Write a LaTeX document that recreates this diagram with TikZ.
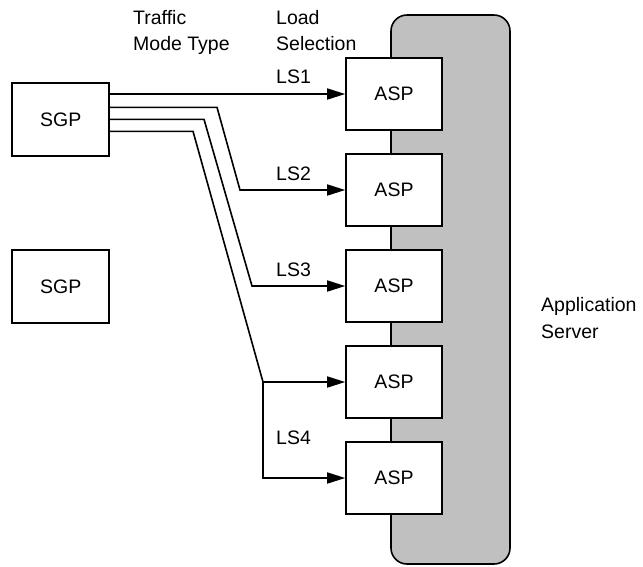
\documentclass[tikz,border=0pt]{standalone}
\usepackage{fontspec}
\setmainfont{Liberation Sans}
\usetikzlibrary{arrows.meta}
\definecolor{srvgray}{RGB}{192,192,192}
\begin{document}
\begin{tikzpicture}[x=1pt,y=-1pt,
  every node/.style={font=\fontsize{19.5}{26}\selectfont},
  box/.style={draw, line width=1.6pt, fill=white, minimum width=96pt, minimum height=72pt, inner sep=0pt},
  lbl/.style={anchor=base west, inner sep=0pt},
  conn/.style={line width=1.6pt},
  arr/.style={conn, -{Triangle[length=18pt,width=11pt]}},
]
\useasboundingbox (0,0) rectangle (643,566);
% application server
\draw[line width=1.6pt, fill=srvgray, rounded corners=16pt] (391,15) rectangle (510,564);
% ASP boxes
\node[box] (asp1) at (394,94) {ASP};
\node[box] (asp2) at (394,190) {ASP};
\node[box] (asp3) at (394,286) {ASP};
\node[box] (asp4) at (394,382) {ASP};
\node[box] (asp5) at (394,478) {ASP};
% SGP boxes
\node[box, minimum width=97pt, minimum height=73pt] (sgp1) at (60.7,119.3) {SGP};
\node[box, minimum width=97pt, minimum height=73pt] (sgp2) at (60.7,286.3) {SGP};
% connectors
\draw[arr] (asp1.west -| sgp1.east) -- (asp1.west);
\draw[arr] ([yshift=12pt]sgp1.east) -- ++(107,0) -- (240,0 |- asp2.west) -- (asp2.west);
\draw[arr] (sgp1.east) -- ++(94,0) -- (252,0 |- asp3.west) -- (asp3.west);
\draw[conn] ([yshift=-12pt]sgp1.east) -- ++(83,0) -- (263,0 |- asp4.west) coordinate (split);
\draw[arr] (split) -- (asp4.west);
\draw[arr] (split) |- (asp5.west);
% labels
\node[lbl] (t1) at (133,24) {Traffic};
\node[lbl] (t2) at (133,50) {Mode Type};
\node[lbl] (l1) at (276,24) {Load};
\node[lbl] (l2) at (276,50) {Selection};
\node[lbl] (ls1) at (276,83) {LS1};
\node[lbl] (ls2) at (276,180) {LS2};
\node[lbl] (ls3) at (276,276) {LS3};
\node[lbl] (ls4) at (276,444) {LS4};
\node[lbl] (a1) at (541,311) {Application};
\node[lbl] (a2) at (541,338) {Server};
\end{tikzpicture}
\end{document}
